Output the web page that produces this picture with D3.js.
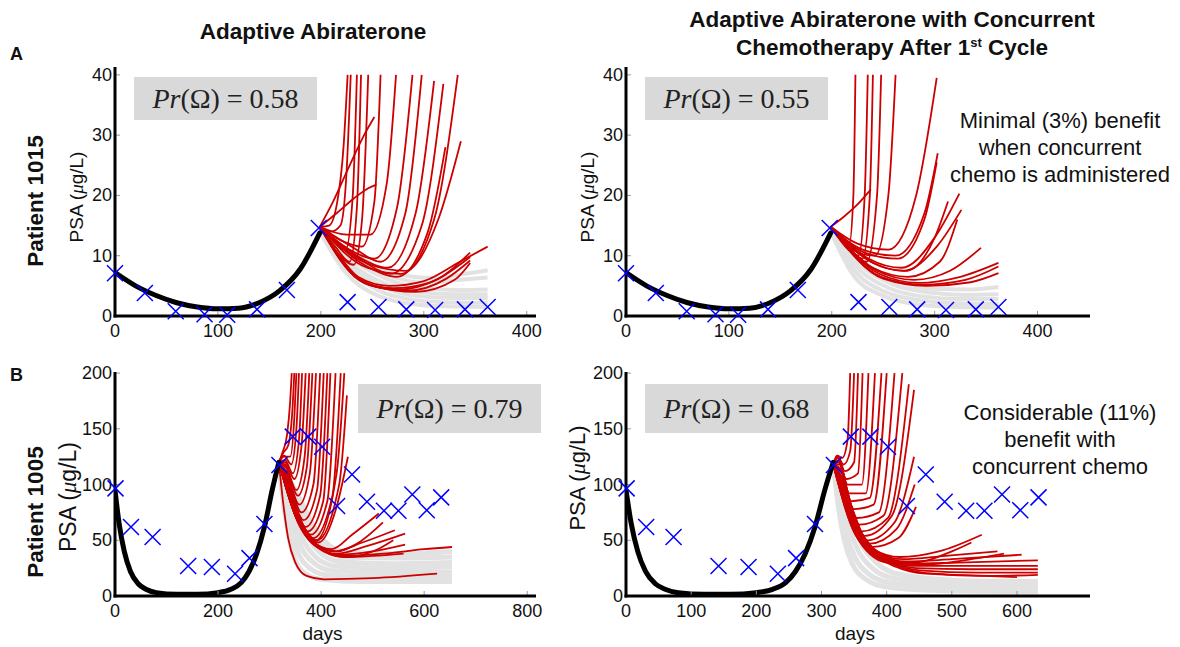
<!DOCTYPE html>
<html>
<head>
<meta charset="utf-8">
<script src="https://cdn.jsdelivr.net/npm/d3@7"></script>
<style>
  body { margin: 0; background: #fff; }
  svg text { font-family: "Liberation Sans", Arial, sans-serif; fill: #111; }
  .tick { font-size: 18px; }
  .title { font-size: 22.5px; font-weight: bold; }
  .note { font-size: 22px; }
  .pr { font-family: "Liberation Serif", "DejaVu Serif", serif; font-size: 28px; fill: #222; }
</style>
</head>
<body>
<div id="chart"></div>
<script>

// ---- patient 1015 (row A) ----
var aDays = [0, 29, 59, 87, 109, 138, 167, 198, 226, 256, 283, 311, 340, 362]
var aPsa  = [7.1, 3.8, 0.8, 0.3, 0.2, 1.1, 4.3, 14.6, 2.3, 1.5, 1.1, 1.0, 1.1, 1.5]
var aFit  = [[0,7.2],[20,5.0],[40,3.4],[60,2.2],[80,1.5],[100,1.2],[120,1.3],[140,2.2],[160,4.2],[180,7.8],[199,13.8]]

var a1Red = [
  [[199,14.8],[208,15],[216,19],[222,28],[226,40]],
  [[199,14.8],[210,14],[219,15],[225,24],[229,40]],
  [[199,14.8],[212,12.5],[224,11],[231,20],[235,40]],
  [[199,14.8],[214,11.5],[228,9],[235,18],[239,40]],
  [[199,14.8],[216,10.5],[232,8.5],[240,16],[246,40]],
  [[199,14.8],[212,19],[228,25],[242,30],[252,33]],
  [[199,14.8],[215,17],[232,19.5],[246,21.2],[254,21.8]],
  [[199,14.8],[220,12.5],[240,11.5],[252,19],[258,40]],
  [[199,14.8],[225,13.5],[248,13.5],[264,22],[273,40]],
  [[199,14.8],[228,11],[252,9.5],[274,18],[289,40]],
  [[199,14.8],[230,11.5],[258,9],[282,17],[298,40]],
  [[199,14.8],[235,10],[265,8],[292,17],[310,39]],
  [[199,14.8],[238,9.5],[268,7],[298,15],[319,38.5]],
  [[199,14.8],[242,8.5],[274,6.5],[304,14],[321,28]],
  [[199,14.8],[245,8],[278,7],[310,16],[333,40]],
  [[199,14.8],[248,8.5],[282,7.5],[314,16],[336,29]],
  [[199,14.8],[236,6.5],[266,5],[300,5.8],[335,9],[362,11.5]],
  [[199,14.8],[238,6],[270,4.6],[305,5.5],[345,10.5]],
  [[199,14.8],[242,5.5],[276,4.4],[312,6],[345,9.8]],
  [[199,14.8],[246,5.2],[284,4.2],[322,6.2],[345,9.2]],
  [[199,14.8],[250,5],[292,4],[330,6],[345,8.8]]
]
var a1Grey = [
  [[199,14],[225,7],[250,3.8],[280,2.2],[320,1.6],[362,1.5]],
  [[199,14],[228,7.5],[255,4.3],[285,2.8],[320,2.3],[362,2.2]],
  [[199,14],[230,8],[258,5],[290,3.4],[325,3],[362,3]],
  [[199,14],[232,8.3],[262,5.4],[295,4],[330,3.6],[362,3.6]],
  [[199,14],[235,8.8],[266,6],[300,4.6],[335,4.3],[362,4.4]],
  [[199,14],[238,9.2],[270,6.5],[305,5.5],[335,6],[362,6.4]],
  [[199,14],[240,9.5],[272,7],[310,6.3],[340,7],[362,7.6]]
]
var a2Red = [
  [[199,14.8],[210,13],[217,12],[221,20],[223,40]],
  [[199,14.8],[212,12],[226,10],[232,20],[235,40]],
  [[199,14.8],[214,11.5],[230,9.5],[237,20],[240,40]],
  [[199,14.8],[216,11],[234,9],[244,20],[248,40]],
  [[199,14.8],[220,11],[242,10],[255,20],[262,40]],
  [[199,14.8],[212,16.5],[225,18.5],[238,21]],
  [[199,14.8],[225,12],[255,11],[282,20],[302,39.5]],
  [[199,14.8],[230,11],[262,10],[290,17],[303,27]],
  [[199,14.8],[232,10.5],[264,9.5],[290,16],[302,25.5]],
  [[199,14.8],[236,9.5],[268,8],[300,13],[324,20.3]],
  [[199,14.8],[238,9],[270,7.5],[302,11.5],[326,17.6]],
  [[199,14.8],[240,8],[274,6.5],[305,9],[322,16]],
  [[199,14.8],[244,7.5],[280,6],[315,7.5],[345,11.3]],
  [[199,14.8],[246,7],[284,5.5],[325,6.5],[362,8.8]],
  [[199,14.8],[248,6.5],[288,5.2],[330,6],[362,8.2]],
  [[199,14.8],[250,6.2],[292,5],[335,5.6],[362,7.1]],
  [[199,14.8],[244,8.5],[272,7.5],[300,13],[313,19]]
]
var a2Grey = [
  [[199,14],[222,6.5],[248,3.5],[280,2],[320,1.5],[362,1.4]],
  [[199,14],[225,7],[252,4],[285,2.6],[322,2.1],[362,2]],
  [[199,14],[228,7.5],[256,4.6],[290,3.2],[325,2.8],[362,2.8]],
  [[199,14],[231,8],[260,5.2],[295,3.9],[330,3.5],[362,3.6]],
  [[199,14],[234,8.5],[265,5.8],[300,4.5],[335,4.4],[362,4.8]]
]

// ---- patient 1005 (row B) ----
var bDays = [1, 31, 73, 142, 188, 233, 261, 290, 319, 345, 375, 402, 431, 460, 489, 522, 550, 577, 605, 633]
var bPsa  = [96.6, 62, 53, 27, 26, 20, 34, 64.6, 117.5, 143, 143, 134, 80.7, 109, 84.6, 76.5, 76.5, 91, 77, 88.5]
var bFit  = [[0,95],[8,65],[18,40],[30,22],[45,11],[60,6],[80,3],[120,1.5],[160,1.5],[200,3],[225,6],[245,12],[260,22],[275,38],[290,62],[305,95],[318,120]]

var b1Red = [
  [[318,120],[326,130],[334,145],[340,175],[343,200]],
  [[318,120],[326,128],[336,135],[344,165],[348,200]],
  [[318,120],[328,125],[340,125],[348,160],[352,200]],
  [[318,120],[328,126],[342,118],[352,150],[357,200]],
  [[318,120],[330,122],[345,110],[357,140],[363,200]],
  [[318,120],[330,120],[348,105],[362,135],[370,200]],
  [[318,120],[330,118],[352,95],[368,125],[377,200]],
  [[318,120],[332,115],[355,90],[372,115],[383,200]],
  [[318,120],[332,112],[358,82],[378,110],[390,200]],
  [[318,120],[334,108],[362,75],[385,100],[398,200]],
  [[318,120],[334,105],[366,68],[392,95],[405,200]],
  [[318,120],[336,100],[370,62],[398,90],[412,200]],
  [[318,120],[336,98],[374,58],[404,85],[418,200]],
  [[318,120],[338,95],[380,55],[412,85],[428,200]],
  [[318,120],[340,92],[385,52],[422,90],[438,200]],
  [[318,120],[340,90],[390,50],[430,110],[445,200]],
  [[318,120],[342,88],[392,50],[435,100],[450,180]],
  [[318,120],[342,88],[395,48],[430,80],[452,125]],
  [[318,120],[345,80],[380,50],[420,42],[460,55],[512,74]],
  [[318,120],[345,78],[385,48],[425,40],[480,48],[543,59]],
  [[318,120],[348,75],[390,45],[430,38],[490,45],[563,56]],
  [[318,120],[350,72],[395,43],[435,37],[500,40],[563,46]],
  [[318,120],[352,70],[400,42],[440,36],[520,38],[600,42],[654,44]],
  [[318,120],[354,68],[405,40],[445,35],[500,36],[560,38]],
  [[318,120],[356,65],[408,40],[450,35],[510,42],[540,50]],
  [[318,120],[350,74],[392,46],[430,40],[470,47],[520,66]],
  [[318,120],[326,85],[336,52],[350,30],[372,18],[405,15],[500,16],[625,20]]
]
var b1Grey = [
  [[318,118],[328,80],[338,52],[350,32],[370,20],[400,15],[480,13],[654,13]],
  [[318,118],[330,85],[342,58],[356,38],[378,25],[410,19],[500,17],[654,17]],
  [[318,118],[332,90],[346,64],[362,43],[385,30],[420,23],[520,21],[654,21]],
  [[318,118],[334,95],[350,70],[368,48],[392,34],[428,27],[530,25],[654,26]],
  [[318,118],[336,98],[354,75],[374,53],[400,38],[435,31],[540,29],[654,30]],
  [[318,118],[338,100],[358,80],[380,58],[408,42],[442,35],[550,34],[654,35]],
  [[318,118],[340,103],[362,84],[386,62],[414,46],[450,39],[560,38],[654,40]]
]
var b2Red = [
  [[318,118],[324,126],[332,124],[340,140],[344,200]],
  [[318,118],[324,126],[334,118],[344,130],[350,200]],
  [[318,118],[325,125],[336,112],[350,120],[356,200]],
  [[318,118],[325,124],[338,105],[356,110],[363,200]],
  [[318,118],[326,122],[340,100],[362,100],[372,200]],
  [[318,118],[326,120],[343,92],[368,92],[382,200]],
  [[318,118],[328,118],[346,85],[374,88],[392,200]],
  [[318,118],[328,115],[350,78],[380,82],[400,200]],
  [[318,118],[330,112],[354,70],[388,75],[412,200]],
  [[318,118],[330,108],[358,64],[395,72],[424,200]],
  [[318,118],[332,105],[362,58],[402,70],[434,190]],
  [[318,118],[334,100],[366,54],[408,72],[442,185]],
  [[318,118],[334,98],[370,50],[412,66],[442,125]],
  [[318,118],[336,95],[374,47],[415,60],[443,100]],
  [[318,118],[338,92],[378,44],[418,52],[445,80]],
  [[318,118],[340,85],[380,42],[420,35],[480,40],[546,55]],
  [[318,118],[342,80],[385,40],[425,33],[490,36],[570,40]],
  [[318,118],[344,76],[390,38],[430,31],[500,33],[607,37]],
  [[318,118],[346,72],[395,36],[435,29],[510,30],[632,32]],
  [[318,118],[348,68],[400,34],[440,27],[520,27],[632,27]],
  [[318,118],[350,64],[405,32],[445,25],[530,24],[632,24]],
  [[318,118],[352,60],[408,30],[450,23],[540,21],[632,21]],
  [[318,118],[354,56],[412,28],[455,21],[550,18],[600,17]],
  [[318,118],[356,52],[415,26],[460,20],[560,18],[632,19]],
  [[318,118],[350,58],[395,33],[440,30],[500,40],[530,48]],
  [[318,118],[352,55],[400,30],[450,28],[540,34],[580,38]]
]
var b2Grey = [
  [[318,118],[326,80],[335,50],[348,28],[368,15],[400,8],[480,5],[632,4]],
  [[318,118],[328,85],[338,56],[352,34],[372,20],[405,12],[490,8],[632,7]],
  [[318,118],[330,90],[342,62],[357,40],[378,25],[410,16],[500,11],[632,10]],
  [[318,118],[332,94],[346,68],[362,46],[384,30],[416,20],[510,14],[632,13]]
]

var aTicksY = [0, 10, 20, 30, 40]
var bTicksY = [0, 50, 100, 150, 200]
var a1TicksX = [0, 100, 200, 300, 400]
var a2TicksX = [0, 100, 200, 300, 400]
var b1TicksX = [0, 200, 400, 600, 800]
var b2TicksX = [0, 100, 200, 300, 400, 500, 600]

var prLabels = ["0.58", "0.55", "0.79", "0.68"]

var W = 1180, H = 647

var svg = d3.select("#chart").append("svg")
    .attr("width", W)
    .attr("height", H)

var panels = [
  { id: "a1", xr: [115, 536], xd: [0, 409], yr: [316, 67],  yd: [0, 41.3], tx: a1TicksX, ty: aTicksY,
    days: aDays, psa: aPsa, fit: aFit, red: a1Red, grey: a1Grey, greyW: 4, pr: prLabels[0], box: [134, 77, 183, 43],
    ylab: [76, 197, 19], xlab: false },
  { id: "a2", xr: [626, 1090], xd: [0, 451], yr: [316, 67], yd: [0, 41.3], tx: a2TicksX, ty: aTicksY,
    days: aDays, psa: aPsa, fit: aFit, red: a2Red, grey: a2Grey, greyW: 4, pr: prLabels[1], box: [645, 77, 183, 43],
    ylab: [587, 197, 19], xlab: false },
  { id: "b1", xr: [115, 536], xd: [0, 817], yr: [596, 372], yd: [0, 201], tx: b1TicksX, ty: bTicksY,
    days: bDays, psa: bPsa, fit: bFit, red: b1Red, grey: b1Grey, greyW: 5, pr: prLabels[2], box: [358, 384, 183, 49],
    ylab: [68, 497, 23], xlab: true },
  { id: "b2", xr: [626, 1090], xd: [0, 712], yr: [596, 372], yd: [0, 201], tx: b2TicksX, ty: bTicksY,
    days: bDays, psa: bPsa, fit: bFit, red: b2Red, grey: b2Grey, greyW: 5, pr: prLabels[3], box: [645, 384, 183, 49],
    ylab: [577, 478, 22], xlab: true }
]

panels.forEach(function(p) {

  var x = d3.scaleLinear().domain(p.xd).range(p.xr)
  var y = d3.scaleLinear().domain(p.yd).range(p.yr)

  var g = svg.append("g").attr("id", p.id)

  g.append("clipPath").attr("id", "clip-" + p.id)
    .append("rect")
      .attr("x", p.xr[0]).attr("y", p.yr[1])
      .attr("width", p.xr[1] - p.xr[0]).attr("height", p.yr[0] - p.yr[1])

  var line = d3.line()
      .x(d => x(d[0]))
      .y(d => y(d[1]))
      .curve(d3.curveMonotoneX)

  // Pr box
  g.append("rect")
      .attr("x", p.box[0]).attr("y", p.box[1])
      .attr("width", p.box[2]).attr("height", p.box[3])
      .attr("fill", "#d9d9d9")

  var prText = g.append("text")
      .attr("class", "pr")
      .attr("x", p.box[0] + p.box[2] / 2)
      .attr("y", p.box[1] + p.box[3] / 2 + 9)
      .attr("text-anchor", "middle")
  prText.append("tspan").attr("font-style", "italic").text("Pr")
  prText.append("tspan").text("(\u03A9) = " + p.pr)

  var plot = g.append("g").attr("clip-path", "url(#clip-" + p.id + ")")

  plot.selectAll(".grey")
      .data(p.grey)
      .enter().append("path")
      .attr("class", "grey")
      .attr("fill", "none")
      .attr("stroke", "#e2e2e2")
      .attr("stroke-width", p.greyW)
      .attr("d", line)

  plot.selectAll(".red")
      .data(p.red)
      .enter().append("path")
      .attr("class", "red")
      .attr("fill", "none")
      .attr("stroke", "#cc0000")
      .attr("stroke-width", 1.8)
      .attr("d", line)

  plot.append("path")
      .datum(p.fit)
      .attr("fill", "none")
      .attr("stroke", "#000")
      .attr("stroke-width", 5)
      .attr("stroke-linecap", "round")
      .attr("d", line)

  // axes
  g.selectAll(".xt")
      .data(p.tx)
      .enter().append("line")
      .attr("x1", d => x(d)).attr("x2", d => x(d))
      .attr("y1", p.yr[0]).attr("y2", p.yr[0] - 5)
      .attr("stroke", "#999").attr("stroke-width", 1)

  g.selectAll(".yt")
      .data(p.ty)
      .enter().append("line")
      .attr("y1", d => y(d)).attr("y2", d => y(d))
      .attr("x1", p.xr[0]).attr("x2", p.xr[0] + 5)
      .attr("stroke", "#999").attr("stroke-width", 1)

  g.append("line")
      .attr("x1", p.xr[0]).attr("x2", p.xr[0])
      .attr("y1", p.yr[1]).attr("y2", p.yr[0] + 1.5)
      .attr("stroke", "#000").attr("stroke-width", 3)

  g.append("line")
      .attr("x1", p.xr[0] - 1.5).attr("x2", p.xr[1])
      .attr("y1", p.yr[0]).attr("y2", p.yr[0])
      .attr("stroke", "#000").attr("stroke-width", 3)

  g.selectAll(".xl")
      .data(p.tx)
      .enter().append("text")
      .attr("class", "tick")
      .attr("x", d => x(d))
      .attr("y", p.yr[0] + 21)
      .attr("text-anchor", "middle")
      .text(d => d)

  g.selectAll(".yl")
      .data(p.ty)
      .enter().append("text")
      .attr("class", "tick")
      .attr("x", p.xr[0] - 3)
      .attr("y", d => y(d) + 6)
      .attr("text-anchor", "end")
      .text(d => d)

  var yl = g.append("text")
      .attr("transform", "translate(" + p.ylab[0] + "," + p.ylab[1] + ") rotate(-90)")
      .attr("text-anchor", "middle")
      .attr("dy", "0.35em")
      .style("font-size", p.ylab[2] + "px")
  yl.append("tspan").text("PSA (")
  yl.append("tspan").attr("font-style", "italic").attr("font-family", "Liberation Serif, serif").text("\u03BC")
  yl.append("tspan").text("g/L)")

  if (p.xlab) {
    g.append("text")
        .attr("x", (p.xr[0] + p.xr[1]) / 2 - 3)
        .attr("y", 640)
        .attr("text-anchor", "middle")
        .style("font-size", "19px")
        .text("days")
  }

  // measured PSA
  var pts = p.days.map((d, i) => [d, p.psa[i]])
  g.selectAll(".mk")
      .data(pts)
      .enter().append("path")
      .attr("fill", "none")
      .attr("stroke", "#0000ff")
      .attr("stroke-width", 1.5)
      .attr("d", function(d) {
        var cx = x(d[0]), cy = y(d[1]), s = 8
        return "M" + (cx - s) + "," + (cy - s) + "L" + (cx + s) + "," + (cy + s) +
               "M" + (cx - s) + "," + (cy + s) + "L" + (cx + s) + "," + (cy - s)
      })
})

// titles and labels
svg.append("text").attr("class", "title").attr("x", 313).attr("y", 39)
    .attr("text-anchor", "middle").text("Adaptive Abiraterone")
svg.append("text").attr("class", "title").attr("x", 892).attr("y", 27)
    .attr("text-anchor", "middle").text("Adaptive Abiraterone with Concurrent")
var t2 = svg.append("text").attr("class", "title").attr("x", 892).attr("y", 55)
    .attr("text-anchor", "middle")
t2.append("tspan").text("Chemotherapy After 1")
t2.append("tspan").attr("dy", -8).style("font-size", "13px").text("st")
t2.append("tspan").attr("dy", 8).text(" Cycle")

svg.append("text").attr("x", 10).attr("y", 60).style("font-weight", "bold").style("font-size", "18px").text("A")
svg.append("text").attr("x", 10).attr("y", 381).style("font-weight", "bold").style("font-size", "18px").text("B")

svg.append("text").attr("class", "title").attr("transform", "translate(43,201) rotate(-90)")
    .attr("text-anchor", "middle").text("Patient 1015")
svg.append("text").attr("class", "title").attr("transform", "translate(43,512) rotate(-90)")
    .attr("text-anchor", "middle").text("Patient 1005")

var noteA = ["Minimal (3%) benefit", "when concurrent", "chemo is administered"]
var noteB = ["Considerable (11%)", "benefit with", "concurrent chemo"]

svg.selectAll(".na").data(noteA).enter().append("text")
    .attr("class", "note").attr("x", 1060).attr("y", (d, i) => 128 + i * 27)
    .attr("text-anchor", "middle").text(d => d)
svg.selectAll(".nb").data(noteB).enter().append("text")
    .attr("class", "note").attr("x", 1060).attr("y", (d, i) => 420 + i * 27)
    .attr("text-anchor", "middle").text(d => d)

</script>
</body>
</html>
